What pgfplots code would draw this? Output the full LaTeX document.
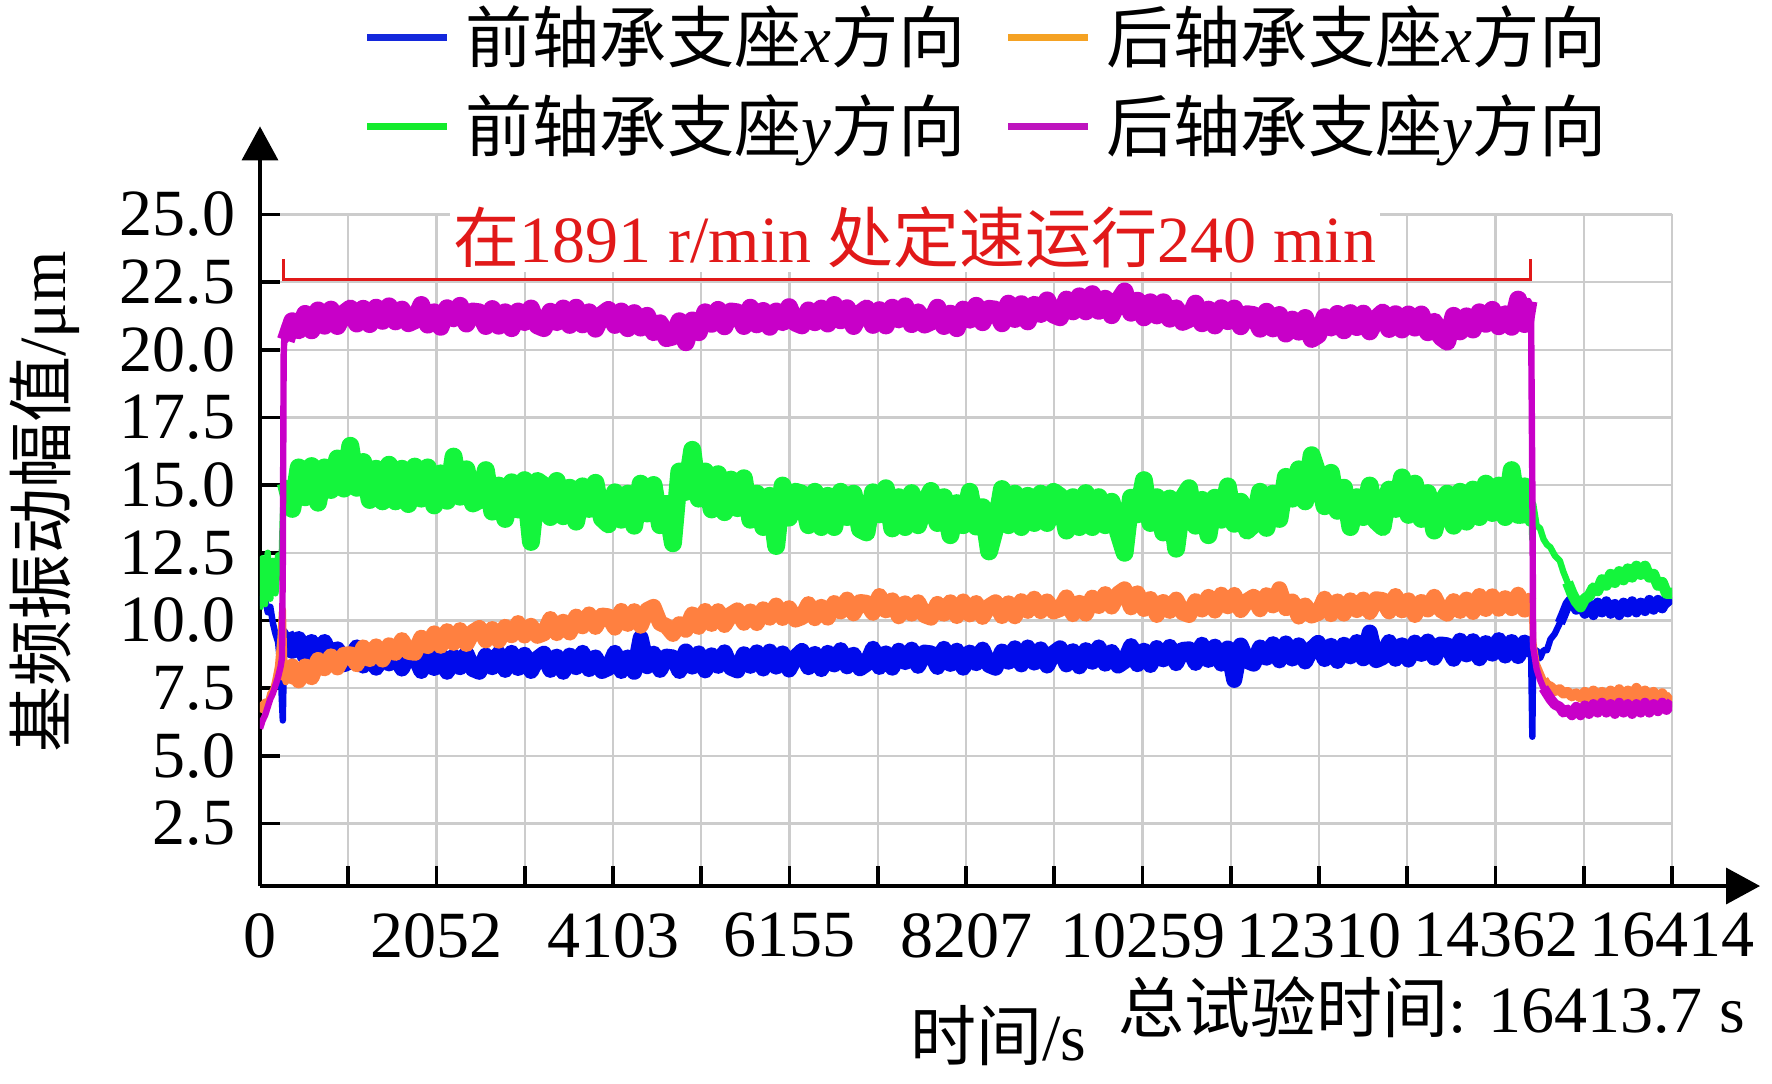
\documentclass[border=0pt]{standalone}
\usepackage{fontspec}
\setmainfont{Liberation Serif}
\newfontfamily\cjk{Noto Sans CJK SC}
\usepackage{pgfplots}
\pgfplotsset{compat=1.18}
\usepackage{pgfplotstable}
\usetikzlibrary{arrows.meta}
\definecolor{serB}{RGB}{0,10,235}
\definecolor{serO}{RGB}{255,128,64}
\definecolor{serG}{RGB}{20,245,60}
\definecolor{serM}{RGB}{200,0,200}
\definecolor{legB}{RGB}{20,40,220}
\definecolor{legO}{RGB}{245,162,35}
\definecolor{legG}{RGB}{20,235,45}
\definecolor{legM}{RGB}{190,20,190}
\definecolor{annRed}{RGB}{225,25,25}
\newcommand\fs{\fontsize{16.5pt}{19pt}\selectfont}
\newcommand\lfs{\fontsize{16.8pt}{19pt}\selectfont}

\pgfplotstableread{
t b o g m
0 10.9 6.6 10.4 6.0
30 10.6 6.9 12.3 6.3
60 10.8 7.0 10.6 6.5
90 10.3 6.9 12.5 6.8
120 10.5 7.3 10.8 7.1
150 9.9 7.4 12.2 7.3
180 9.5 7.8 11.0 7.6
210 9.2 8.3 12.4 7.9
240 8.2 9.4 11.6 8.3
255 7.0 10.3 12.6 8.6
265 6.3 10.4 13.8 12.0
275 8.0 9.2 14.6 19.8
285 9.6 7.9 14.2 20.6
300 9.52 7.72 15.08 20.35
375 8.87 8.30 14.12 21.05
450 9.31 7.78 15.65 20.72
525 8.65 8.30 14.55 21.32
600 9.20 7.90 15.70 20.72
675 8.72 8.54 14.35 21.45
750 9.20 8.23 15.65 20.89
825 8.55 8.67 14.82 21.48
900 8.93 8.26 15.98 20.88
975 8.38 8.73 14.87 21.34
1050 8.49 8.75 16.45 21.52
1125 9.00 8.38 14.90 20.97
1200 8.33 9.00 15.85 21.51
1275 8.78 8.57 14.45 20.95
1350 8.25 9.04 15.60 21.55
1425 8.83 8.55 14.40 21.07
1500 8.41 9.08 15.75 21.60
1575 8.82 8.80 14.40 21.05
1650 8.22 9.27 15.60 21.48
1725 8.71 8.84 14.30 20.98
1800 8.68 8.80 15.68 21.09
1875 8.13 9.36 14.50 21.65
1950 8.80 9.05 15.65 20.93
2025 8.24 9.52 14.25 21.38
2100 8.73 9.06 15.43 20.85
2175 8.10 9.60 14.42 21.53
2250 8.66 9.17 16.05 21.16
2325 8.27 9.64 14.57 21.62
2400 8.77 9.13 15.58 20.97
2475 8.20 9.57 14.32 21.41
2550 8.10 9.72 14.45 21.38
2625 8.70 9.26 15.55 20.88
2700 8.27 9.68 14.02 21.50
2775 8.77 9.25 14.98 20.89
2850 8.17 9.76 13.75 21.38
2925 8.80 9.45 15.10 20.80
3000 8.24 9.90 14.10 21.41
3075 8.73 9.44 15.18 21.02
3150 8.13 9.80 12.90 21.52
3225 8.59 9.43 15.15 20.90
3300 8.77 9.52 14.98 20.80
3375 8.17 10.05 13.82 21.40
3450 8.66 9.53 15.15 21.02
3525 8.10 9.95 13.85 21.52
3600 8.70 9.55 14.90 20.92
3675 8.27 10.14 13.65 21.55
3750 8.80 9.78 14.95 20.94
3825 8.20 10.22 14.12 21.38
3900 8.63 9.76 15.08 20.78
3975 8.13 10.18 13.77 21.29
4050 8.24 10.15 13.55 21.47
4125 8.80 9.73 14.73 20.92
4200 8.13 10.35 13.72 21.41
4275 8.63 9.87 14.68 20.80
4350 8.10 10.34 13.50 21.35
4425 9.35 9.80 15.05 20.82
4500 8.31 10.38 13.95 21.25
4575 8.77 10.50 15.00 20.65
4650 8.17 9.90 13.52 20.98
4725 8.66 9.79 14.30 20.43
4800 8.63 9.50 12.85 20.49
4875 8.13 9.86 15.50 21.05
4950 8.85 9.65 14.75 20.28
5025 8.29 10.22 16.30 21.08
5100 8.78 9.76 14.50 20.65
5175 8.15 10.35 15.50 21.38
5250 8.71 9.87 14.10 20.96
5325 8.32 10.34 15.40 21.47
5400 8.82 9.83 14.00 20.87
5475 8.25 10.22 15.20 21.41
5550 8.15 10.37 14.15 21.38
5625 8.75 9.91 15.25 20.88
5700 8.32 10.33 13.72 21.55
5775 8.82 9.90 14.68 20.94
5850 8.22 10.41 13.45 21.43
5925 8.85 10.10 14.60 20.85
6000 8.29 10.55 12.75 21.41
6075 8.78 10.09 14.98 21.02
6150 8.18 10.45 13.80 21.57
6225 8.64 10.03 14.75 21.00
6300 8.87 10.12 14.68 20.90
6375 8.27 10.60 13.52 21.45
6450 8.76 10.08 14.75 21.02
6525 8.20 10.50 13.45 21.52
6600 8.80 10.10 14.60 20.97
6675 8.37 10.64 13.45 21.65
6750 8.90 10.33 14.75 21.09
6825 8.30 10.77 13.82 21.53
6900 8.73 10.26 14.68 20.88
6975 8.23 10.68 13.37 21.34
7050 8.39 10.65 13.25 21.52
7125 8.95 10.28 14.73 20.92
7200 8.28 10.90 13.92 21.46
7275 8.78 10.37 14.88 20.90
7350 8.25 10.74 13.40 21.55
7425 8.88 10.15 14.55 21.12
7500 8.46 10.63 13.45 21.60
7575 8.92 10.25 14.70 20.95
7650 8.32 10.67 13.52 21.38
7725 8.81 10.19 14.30 20.93
7800 8.78 10.10 14.78 21.04
7875 8.28 10.61 13.60 21.55
7950 8.95 10.25 14.55 20.88
8025 8.39 10.67 13.15 21.33
8100 8.88 10.16 14.33 20.80
8175 8.25 10.70 13.52 21.48
8250 8.81 10.22 14.75 21.11
8325 8.42 10.64 13.47 21.62
8400 8.92 10.13 14.18 21.02
8475 8.35 10.52 12.55 21.51
8550 8.25 10.67 13.45 21.48
8625 8.85 10.16 14.85 20.98
8700 8.47 10.63 13.52 21.70
8775 8.97 10.15 14.68 21.14
8850 8.37 10.71 13.45 21.68
8925 9.00 10.35 14.60 21.05
9000 8.44 10.80 13.60 21.66
9075 8.93 10.34 14.68 21.32
9150 8.33 10.70 13.60 21.82
9225 8.79 10.33 14.75 21.30
9300 8.97 10.42 14.58 21.20
9375 8.37 10.85 13.32 21.85
9450 8.86 10.23 14.55 21.42
9525 8.30 10.65 13.45 21.97
9600 8.90 10.25 14.70 21.42
9675 8.47 10.84 13.45 22.05
9750 9.00 10.53 14.55 21.44
9825 8.40 10.97 13.52 21.88
9900 8.83 10.51 14.38 21.28
9975 8.33 10.98 13.27 21.79
10050 8.49 11.15 12.50 22.15
10125 9.05 10.48 14.53 21.37
10200 8.38 11.00 13.92 21.81
10275 8.88 10.42 15.18 21.20
10350 8.35 10.79 13.60 21.75
10425 8.98 10.20 14.55 21.27
10500 8.56 10.68 13.25 21.75
10575 9.02 10.35 14.50 21.15
10650 8.42 10.77 12.65 21.53
10725 8.91 10.29 14.50 21.03
10800 8.93 10.20 14.88 21.14
10875 8.43 10.71 13.50 21.70
10950 9.10 10.40 14.45 20.98
11025 8.54 10.87 13.15 21.48
11100 9.03 10.36 14.53 20.90
11175 8.40 10.95 13.72 21.53
11250 8.96 10.52 14.95 21.06
11325 7.80 10.94 13.57 21.52
11400 9.07 10.38 14.38 20.87
11475 8.50 10.72 13.32 21.31
11550 8.40 10.87 13.55 21.28
11625 9.00 10.41 14.75 20.78
11700 8.62 10.93 13.42 21.40
11775 9.12 10.55 14.68 20.79
11850 8.52 11.15 13.75 21.28
11925 9.15 10.45 15.30 20.60
12000 8.59 10.70 14.50 21.11
12075 9.08 10.14 15.58 20.67
12150 8.48 10.55 14.40 21.17
12225 8.94 10.18 16.10 20.40
12300 9.17 10.27 15.38 20.55
12375 8.57 10.80 14.22 21.20
12450 9.06 10.23 15.45 20.82
12525 8.50 10.70 14.05 21.32
12600 9.10 10.25 14.90 20.72
12675 8.67 10.74 13.45 21.35
12750 9.20 10.38 14.55 20.84
12825 8.60 10.77 13.82 21.33
12900 9.55 10.31 14.98 20.68
12975 8.53 10.78 13.67 21.14
13050 8.64 10.75 13.45 21.37
13125 9.20 10.33 14.83 20.77
13200 8.58 10.90 14.12 21.31
13275 9.08 10.37 15.28 20.75
13350 8.55 10.74 13.90 21.30
13425 9.18 10.20 15.05 20.82
13500 8.76 10.68 13.75 21.30
13575 9.22 10.40 14.70 20.65
13650 8.62 10.87 13.32 21.03
13725 9.11 10.39 14.30 20.48
13800 9.08 10.25 14.68 20.30
13875 8.58 10.71 13.50 21.25
13950 9.25 10.35 14.75 20.68
14025 8.74 10.77 13.65 21.23
14100 9.23 10.31 14.83 20.75
14175 8.60 10.90 13.82 21.38
14250 9.16 10.42 15.05 20.96
14325 8.77 10.89 13.97 21.47
14400 9.27 10.43 14.98 20.87
14475 8.70 10.82 13.82 21.31
14550 9.20 10.45 15.55 20.85
14625 8.68 10.95 13.90 21.85
14700 9.18 10.40 14.95 20.95
14745 8.75 10.90 13.60 21.80
14775 8.95 10.50 14.60 21.50
14790 5.70 10.00 13.00 15.00
14800 8.60 9.20 14.30 9.00
14840 8.90 8.40 13.50 8.20
14880 8.60 8.10 13.40 7.80
14920 8.90 7.80 13.00 7.50
14960 8.90 7.60 12.80 7.30
15000 9.30 7.55 12.70 7.10
15050 9.50 7.40 12.40 6.90
15110 9.90 7.45 12.20 6.80
15150 10.20 7.30 11.80 6.60
15200 10.60 7.35 11.40 6.70
15250 10.80 7.20 11.00 6.50
15300 10.40 7.30 10.70 6.80
15350 10.60 7.15 10.50 6.50
15400 10.25 7.35 10.80 6.85
15450 10.60 7.10 10.90 6.55
15500 10.20 7.40 11.20 6.90
15550 10.65 7.15 11.10 6.60
15600 10.30 7.35 11.50 6.95
15650 10.70 7.10 11.30 6.60
15700 10.25 7.40 11.70 6.90
15750 10.60 7.15 11.40 6.55
15800 10.20 7.45 11.80 6.95
15850 10.65 7.20 11.50 6.60
15900 10.30 7.40 11.90 6.90
15950 10.70 7.10 11.60 6.55
16000 10.30 7.50 12.00 6.90
16050 10.65 7.20 11.70 6.60
16100 10.35 7.40 12.00 6.95
16150 10.75 7.15 11.60 6.60
16200 10.40 7.35 11.70 6.90
16250 10.75 7.10 11.30 6.65
16300 10.45 7.30 11.40 6.95
16350 10.80 7.05 11.00 6.70
16414 10.60 7.20 11.00 7.00
}\data

\begin{document}
\begin{tikzpicture}
\path[use as bounding box] (-65pt,-49.25pt) rectangle (378pt,221.5pt);
\begin{axis}[
  at={(0pt,0pt)}, anchor=south west,
  scale only axis, width=353pt, height=167.9pt,
  xmin=0, xmax=16414, ymin=0.185, ymax=25,
  clip mode=individual,
  axis lines=left,
  axis line style={line width=0.9pt, -{Triangle[length=8.5pt,width=9pt]}, shorten >=-22pt},
  scaled x ticks=false, scaled y ticks=false,
  xtick={0,1025.875,2051.75,3077.625,4103.5,5129.375,6155.25,7181.125,8207,9232.875,10258.75,11284.625,12310.5,13336.375,14362.25,15388.125,16414},
  xticklabels={0,{},2052,{},4103,{},6155,{},8207,{},10259,{},12310,{},14362,{},16414},
  ytick={2.5,5,7.5,10,12.5,15,17.5,20,22.5,25},
  yticklabels={2.5,5.0,7.5,10.0,12.5,15.0,17.5,20.0,22.5,25.0},
  tick align=inside,
  major tick length=5pt,
  tick style={line width=0.9pt, black},
  grid=major,
  grid style={line width=0.6pt, color=black!20},
  tick label style={font=\fs},
  yticklabel style={inner sep=0pt, xshift=-6pt},
  xticklabel style={inner sep=0pt, yshift=-6.6pt},
  xlabel={{\cjk 时间}/s},
  xlabel style={font=\fs, at={(axis description cs:0.5227,-0.2226)}, anchor=center},
  ylabel={{\cjk 基频振动幅值}/μm},
  ylabel style={font=\fs, at={(axis description cs:-0.1523,0.5717)}, anchor=center},
  legend columns=2,
  legend cell align=left,
  legend image code/.code={\draw[#1, line width=1.75pt] (0pt,0pt) -- (20pt,0pt);},
  legend style={at={(axis description cs:0.0729,1.312)}, anchor=north west, draw=none, fill=none, inner sep=0pt, row sep=6.5pt, font=\lfs, nodes={inner ysep=0pt, inner xsep=3.7pt}},
]
\addplot[serB, line width=4pt, line join=round, restrict x to domain=300:14760, forget plot] table[x=t, y=b] {\data};
\addplot[serB, line width=2.6pt, line join=round, restrict x to domain=15100:16414, forget plot] table[x=t, y=b] {\data};
\addplot[serB, line width=1.6pt, line join=round, forget plot] table[x=t, y=b] {\data};
\addplot[serO, line width=4pt, line join=round, restrict x to domain=300:14760, forget plot] table[x=t, y=o] {\data};
\addplot[serO, line width=2.6pt, line join=round, restrict x to domain=14900:16414, forget plot] table[x=t, y=o] {\data};
\addplot[serO, line width=1.6pt, line join=round, forget plot] table[x=t, y=o] {\data};
\addplot[serG, line width=4.5pt, line join=round, restrict x to domain=300:14760, forget plot] table[x=t, y=g] {\data};
\addplot[serG, line width=2.8pt, line join=round, restrict x to domain=15200:16414, forget plot] table[x=t, y=g] {\data};
\addplot[serG, line width=1.6pt, line join=round, forget plot] table[x=t, y=g] {\data};
\addplot[serM, line width=4.5pt, line join=round, restrict x to domain=300:14760, forget plot] table[x=t, y=m] {\data};
\addplot[serM, line width=2.6pt, line join=round, restrict x to domain=14900:16414, forget plot] table[x=t, y=m] {\data};
\addplot[serM, line width=1.6pt, line join=round, forget plot] table[x=t, y=m] {\data};
\addlegendimage{legB}
\addlegendentry{{\cjk 前轴承支座}\textit{x}{\cjk 方向}\rule{6pt}{0pt}}
\addlegendimage{legO}
\addlegendentry{{\cjk 后轴承支座}\textit{x}{\cjk 方向}}
\addlegendimage{legG}
\addlegendentry{{\cjk 前轴承支座}\textit{y}{\cjk 方向}\rule{6pt}{0pt}}
\addlegendimage{legM}
\addlegendentry{{\cjk 后轴承支座}\textit{y}{\cjk 方向}}
\draw[annRed, line width=0.75pt] (axis cs:271,23.35) -- (axis cs:271,22.6) -- (axis cs:14770,22.6) -- (axis cs:14770,23.35);
\node[fill=white, inner sep=1pt, text=annRed, font=\fs] at (axis cs:7614,24.16) {{\cjk 在}1891 r/min {\cjk 处定速运行}240 min};
\node[font=\fs, anchor=center] at (axis description cs:0.8297,-0.1801) {{\cjk 总试验时间}: 16413.7 s};
\end{axis}
\end{tikzpicture}
\end{document}
